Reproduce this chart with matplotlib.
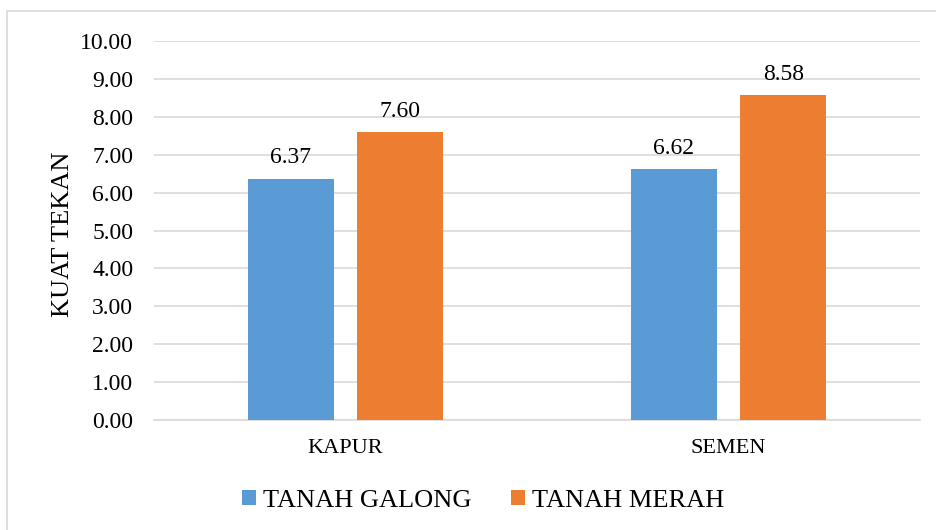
import numpy as np
import matplotlib.pyplot as plt
from matplotlib.patches import Rectangle

plt.rcParams['font.family'] = ['Liberation Serif', 'DejaVu Serif']

categories = ["KAPUR", "SEMEN"]
series = ["TANAH GALONG", "TANAH MERAH"]
galong = [6.37, 6.62]
merah = [7.60, 8.58]
colors = ["#5b9bd5", "#ed7d31"]

fig = plt.figure(figsize=(9.36, 5.30), dpi=100)
ax = fig.add_axes([0.1645, 0.2075, 0.8185, 0.7151])

x = np.arange(len(categories))
w = 0.225
off = 0.143
for vals, name, c, dx in zip([galong, merah], series, colors, [-off, off]):
    bars = ax.bar(x + dx, vals, w, color=c, label=name, zorder=3)
    for b, v in zip(bars, vals):
        ax.text(b.get_x() + b.get_width() / 2, v + 0.40, f"{v:.2f}",
                ha='center', va='baseline', fontsize=17, color='#000000')

ax.set_xlim(-0.5, 1.5)
ax.set_ylim(0, 10)
ax.set_yticks(np.arange(0, 10.5, 1))
ax.set_yticklabels([f"{t:.2f}" for t in np.arange(0, 10.5, 1)], fontsize=17)
ax.set_xticks(x)
ax.set_xticklabels(categories, fontsize=16)
ax.tick_params(axis='y', length=0, pad=15)
ax.tick_params(axis='x', length=0, pad=14)
ax.grid(axis='y', color='#d9d9d9', linewidth=1.2, zorder=0)
for s in ['top', 'right', 'left']:
    ax.spines[s].set_visible(False)
ax.spines['bottom'].set_color('#d9d9d9')
ax.spines['bottom'].set_linewidth(1.2)

ax.set_ylabel("KUAT TEKAN", fontsize=19)
ax.yaxis.set_label_coords(-0.105, 0.49)

fig.patches.append(Rectangle((7 / 936, -0.1), 2, 1 - 11 / 530 + 0.1,
                             transform=fig.transFigure, fill=False,
                             edgecolor='#d9d9d9', linewidth=1.2))

fig.legend(loc='center', bbox_to_anchor=(483 / 936, 1 - 501 / 530), ncol=2,
           frameon=False, fontsize=19, handlelength=0.53, handleheight=0.53,
           handletextpad=0.27, columnspacing=1.48)

plt.savefig("out.png", dpi=100)
